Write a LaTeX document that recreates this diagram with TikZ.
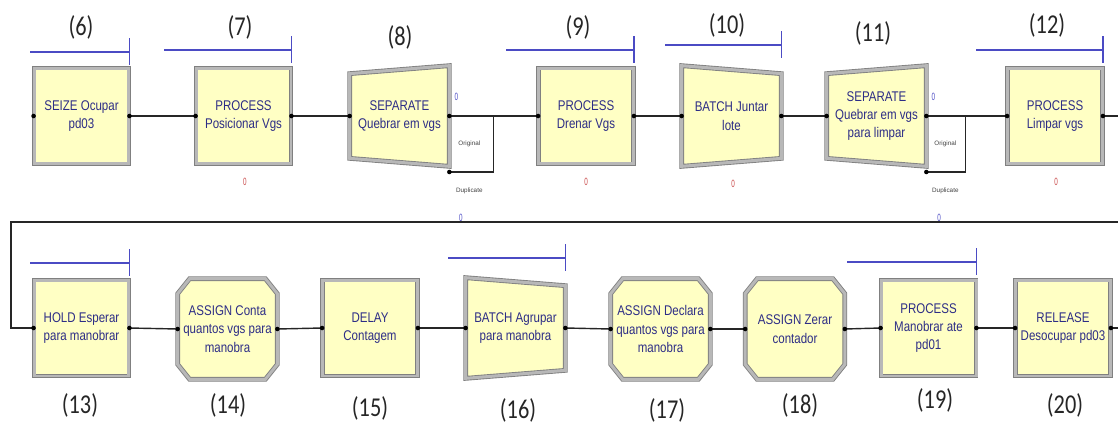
\documentclass[tikz,border=0pt]{standalone}
\usepackage{fontspec}
\setmainfont{Liberation Sans}
\newfontfamily\modfont[FakeStretch=0.82]{Liberation Sans}
\newfontfamily\tagfont[FakeStretch=0.82]{Carlito}
\newfontfamily\cntfont[FakeStretch=0.6]{Liberation Sans}
\usetikzlibrary{positioning,calc,backgrounds}

\definecolor{modfill}{HTML}{FFFFC4}
\definecolor{modtext}{HTML}{2D2D86}
\definecolor{qblue}{HTML}{4B4BC4}
\definecolor{cntred}{HTML}{C84848}
\definecolor{tagcol}{HTML}{262626}

\tikzset{
  modborder/.style = {draw=black!50, double=black!28, double distance=1.7pt,
                      line width=0.5pt, fill=modfill},
  modtxt/.style    = {align=center, text=modtext, inner sep=1pt,
                      font=\modfont\fontsize{8}{10.5}\selectfont},
  process/.style   = {modborder, modtxt, rectangle,
                      minimum width=1.9cm, minimum height=1.92cm},
  shaped/.style    = {modtxt, minimum width=1.98cm, minimum height=2cm},
  tag/.style       = {font=\tagfont\fontsize{15.5}{17}\selectfont, text=tagcol, inner sep=0pt},
  queue/.style     = {draw=qblue, line width=0.7pt},
  conn/.style      = {draw=black!85, line width=0.8pt},
  rcnt/.style      = {font=\cntfont\fontsize{6}{6}\selectfont, text=cntred, inner sep=0pt},
  bcnt/.style      = {rcnt, text=qblue},
  exitlbl/.style   = {font=\fontsize{3.6}{4}\selectfont, text=black!75, inner sep=0pt}
}

\begin{document}
\begin{tikzpicture}[x=0.02cm, y=-0.02cm]
  \useasboundingbox (0,0) rectangle (1118,426);

  % upper row of modules
  \node[process] (m6)  at (81.5,116)  {SEIZE Ocupar\\pd03};
  \node[process] (m7)  at (243.5,116) {PROCESS\\Posicionar Vgs};
  \node[shaped]  (m8)  at (399.5,116) {SEPARATE\\Quebrar em vgs};
  \node[process] (m9)  at (586,116)   {PROCESS\\Drenar Vgs};
  \node[shaped]  (m10) at (731.5,116) {BATCH Juntar\\lote};
  \node[shaped]  (m11) at (876.5,116) {SEPARATE\\Quebrar em vgs\\para limpar};
  \node[process] (m12) at (1055,116)  {PROCESS\\Limpar vgs};

  % lower row of modules
  \node[process] (m13) at (81.5,328)  {HOLD Esperar\\para manobrar};
  \node[shaped]  (m14) at (227.5,329) {ASSIGN Conta\\quantos vgs para\\manobra};
  \node[process] (m15) at (370,328)   {DELAY\\Contagem};
  \node[shaped]  (m16) at (515.5,328) {BATCH Agrupar\\para manobra};
  \node[shaped]  (m17) at (660.5,329) {ASSIGN Declara\\quantos vgs para\\manobra};
  \node[shaped]  (m18) at (795,329)   {ASSIGN Zerar\\contador};
  \node[process] (m19) at (928.5,328) {PROCESS\\Manobrar ate\\pd01};
  \node[process] (m20) at (1063,328)  {RELEASE\\Desocupar pd03};

  % outlines of the SEPARATE, BATCH and ASSIGN modules
  \begin{scope}[on background layer]
    \foreach \m in {m8,m11}
      \draw[modborder] ($(\m.north west)+(0,8)$) -- (\m.north east)
        -- (\m.south east) -- ($(\m.south west)+(0,-8)$) -- cycle;
    \foreach \m in {m10,m16}
      \draw[modborder] (\m.north west) -- ($(\m.north east)+(0,8)$)
        -- ($(\m.south east)+(0,-8)$) -- (\m.south west) -- cycle;
    \foreach \m in {m14,m17,m18}
      \draw[modborder] ($(\m.north west)+(12,0)$) -- ($(\m.north east)+(-12,0)$)
        -- ($(\m.north east)+(0,15)$) -- ($(\m.south east)+(0,-15)$)
        -- ($(\m.south east)+(-12,0)$) -- ($(\m.south west)+(12,0)$)
        -- ($(\m.south west)+(0,-15)$) -- ($(\m.north west)+(0,15)$) -- cycle;
  \end{scope}

  % module numbers
  \node[tag] (t6)  at (81,27)   {(6)};
  \node[tag] (t7)  at (240,27)  {(7)};
  \node[tag] (t8)  at (400,37)  {(8)};
  \node[tag] (t9)  at (578,27)  {(9)};
  \node[tag] (t10) at (727,25)  {(10)};
  \node[tag] (t11) at (873,33)  {(11)};
  \node[tag] (t12) at (1047,25) {(12)};
  \node[tag] (t13) at (80,405)  {(13)};
  \node[tag] (t14) at (228,405) {(14)};
  \node[tag] (t15) at (370,408) {(15)};
  \node[tag] (t16) at (518,410) {(16)};
  \node[tag] (t17) at (667,410) {(17)};
  \node[tag] (t18) at (800,405) {(18)};
  \node[tag] (t19) at (935,400) {(19)};
  \node[tag] (t20) at (1065,405) {(20)};

  % queues above the modules
  \foreach \m/\len/\qy in {m6/99/52, m7/127/50, m9/128/50, m10/116/45, m12/127/50,
                           m13/99/263, m16/117/258, m19/129/262}
    \draw[queue] (\m.north east |- 0,\qy) -- ++(-\len,0) ++(\len,-14) -- ++(0,27);

  % counters
  \node[rcnt] (z7)  at (245,182)  {0};
  \node[rcnt] (z9)  at (586,182)  {0};
  \node[rcnt] (z10) at (733,184)  {0};
  \node[rcnt] (z12) at (1056,182) {0};
  \node[bcnt] (z8)  at ($(m8.east)+(7,-19)$)  {0};
  \node[bcnt] (z11) at ($(m11.east)+(7,-19)$) {0};

  % separate exits
  \coordinate (d8)  at ($(m8.east)+(0,56)$);
  \coordinate (j8)  at ($(m8.east)+(44,0)$);
  \coordinate (d11) at ($(m11.east)+(0,56)$);
  \coordinate (j11) at ($(m11.east)+(39,0)$);
  \node[exitlbl] (o8)    at ($(m8.east)+(20,28)$)  {Original};
  \node[exitlbl] (dup8)  at ($(m8.east)+(20,75)$)  {Duplicate};
  \node[exitlbl] (o11)   at ($(m11.east)+(19,28)$) {Original};
  \node[exitlbl] (dup11) at ($(m11.east)+(19,75)$) {Duplicate};

  % connections
  \draw[conn] (m6.east) -- (m7.west);
  \draw[conn] (m7.east) -- (m8.west);
  \draw[conn] (m8.east) -- (m9.west);
  \draw[conn] (d8) -| (j8);
  \draw[conn] (m9.east) -- (m10.west);
  \draw[conn] (m10.east) -- (m11.west);
  \draw[conn] (m11.east) -- (m12.west);
  \draw[conn] (d11) -| (j11);

  \coordinate (out12) at (1118,116);
  \coordinate (back)  at (1118,222);
  \coordinate (out20) at (1118,328);
  \draw[conn] (m12.east) -- (out12);
  \draw[conn] (back) -- (11,222) |- (m13.west);
  \node[bcnt] (z13a) at (461,218) {0};
  \node[bcnt] (z13b) at (939,218) {0};

  \draw[conn] (m13.east) -- (m14.west);
  \draw[conn] (m14.east) -- (m15.west);
  \draw[conn] (m15.east) -- (m16.west);
  \draw[conn] (m16.east) -- (m17.west);
  \draw[conn] (m17.east) -- (m18.west);
  \draw[conn] (m18.east) -- (m19.west);
  \draw[conn] (m19.east) -- (m20.west);
  \draw[conn] (m20.east) -- (out20);

  % entry and exit points
  \foreach \m in {m6,m7,m8,m9,m10,m11,m12,m13,m14,m15,m16,m17,m18,m19,m20}
    \fill (\m.west) circle[radius=1.3pt] (\m.east) circle[radius=1.3pt];
  \fill (d8) circle[radius=1.3pt] (d11) circle[radius=1.3pt];
\end{tikzpicture}
\end{document}
